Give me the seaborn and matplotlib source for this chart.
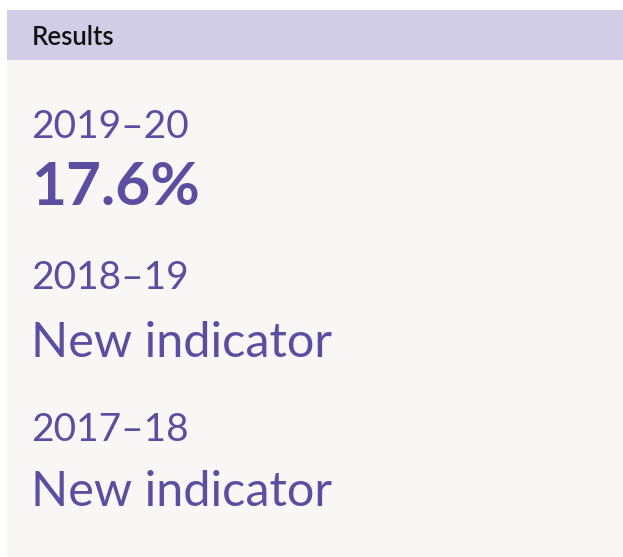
import matplotlib
matplotlib.use('Agg')
import matplotlib.pyplot as plt
import seaborn as sns
from matplotlib.patches import Rectangle

title = "Results"
periods = ["2019–20", "2018–19", "2017–18"]
results = ["17.6%", "New indicator", "New indicator"]

sns.set_style("white")
plt.rcParams['font.family'] = ['Lato', 'DejaVu Sans']

purple = "#5B4DA0"
W, H = 623, 557

fig = plt.figure(figsize=(W / 100, H / 100), dpi=100)
ax = fig.add_axes([0, 0, 1, 1])
ax.set_xlim(0, W)
ax.set_ylim(H, 0)
ax.axis("off")

# card body and header band
ax.add_patch(Rectangle((7, 10), W - 7, H - 10, color="#F8F7F5", lw=0))
ax.add_patch(Rectangle((7, 10), W - 7, 50, color="#D1CDE6", lw=0))
ax.text(32, 45, title, fontsize=18.5, color="#111111", va="baseline", fontweight="semibold")

period_base = [138, 289, 441]
result_base = [205, 357, 506]
for p, r, pb, rb in zip(periods, results, period_base, result_base):
    ax.text(31, pb, p, fontsize=28, color=purple, va="baseline")
    if r.endswith("%"):
        ax.text(31, rb, r, fontsize=43.5, color=purple, va="baseline", fontweight="bold")
    else:
        ax.text(31, rb, r, fontsize=35, color=purple, va="baseline")

fig.savefig("out.png", dpi=100)
plt.close()
